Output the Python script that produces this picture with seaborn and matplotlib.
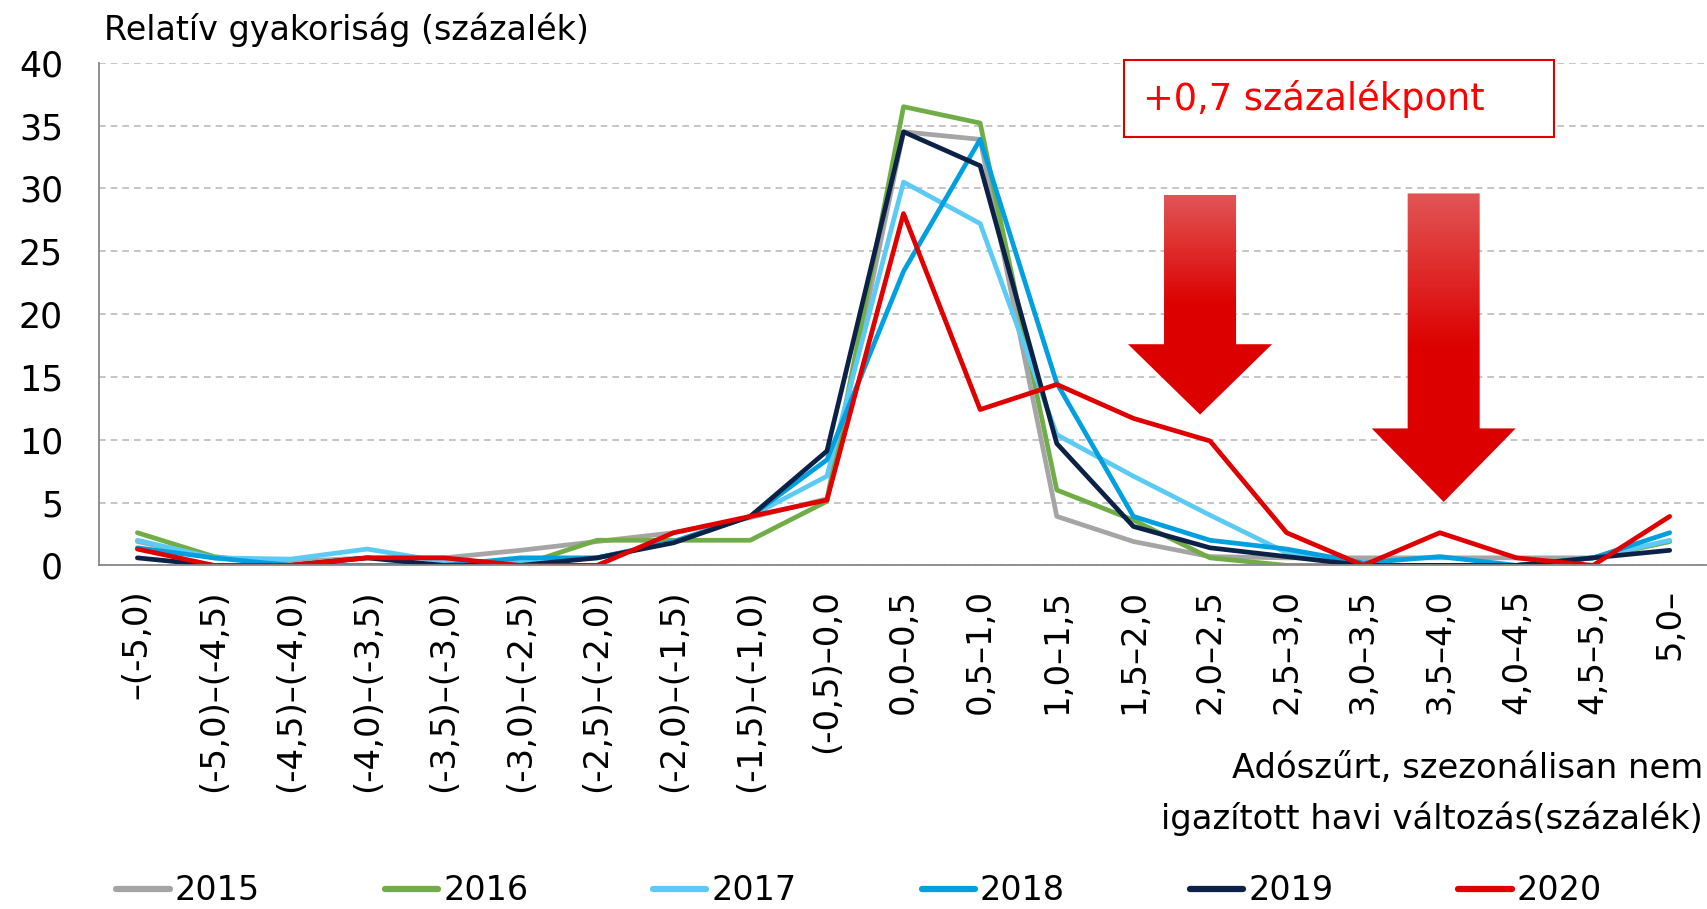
import matplotlib
matplotlib.use("Agg")
import matplotlib.pyplot as plt
import matplotlib.colors as mcolors
from matplotlib.patches import Polygon, Rectangle
from matplotlib.lines import Line2D
import seaborn as sns
import numpy as np
import pandas as pd

# category labels (monthly change bins)
categories = ["–(-5,0)", "(-5,0)–(-4,5)", "(-4,5)–(-4,0)", "(-4,0)–(-3,5)",
              "(-3,5)–(-3,0)", "(-3,0)–(-2,5)", "(-2,5)–(-2,0)", "(-2,0)–(-1,5)",
              "(-1,5)–(-1,0)", "(-0,5)–0,0", "0,0–0,5", "0,5–1,0", "1,0–1,5",
              "1,5–2,0", "2,0–2,5", "2,5–3,0", "3,0–3,5", "3,5–4,0", "4,0–4,5",
              "4,5–5,0", "5,0–"]

years = ["2015", "2016", "2017", "2018", "2019", "2020"]

v2015 = [1.9, 0.6, 0.3, 0.6, 0.6, 1.2, 1.9, 2.6, 3.8, 5.3, 34.5, 33.9,
         3.9, 1.9, 0.7, 0.6, 0.6, 0.6, 0.6, 0.6, 1.9]
v2016 = [2.6, 0.7, 0.0, 0.0, 0.0, 0.0, 2.0, 2.0, 2.0, 5.1, 36.5, 35.2,
         6.0, 3.6, 0.6, 0.0, 0.0, 0.0, 0.0, 0.6, 1.9]
v2017 = [2.0, 0.6, 0.5, 1.3, 0.3, 0.3, 0.6, 1.9, 3.9, 7.1, 30.5, 27.2,
         10.4, 7.1, 4.0, 1.0, 0.0, 0.0, 0.0, 0.6, 2.0]
v2018 = [1.4, 0.6, 0.0, 0.0, 0.0, 0.6, 0.6, 1.9, 3.9, 8.4, 23.4, 33.9,
         14.5, 3.9, 2.0, 1.3, 0.2, 0.7, 0.0, 0.6, 2.6]
v2019 = [0.6, 0.0, 0.0, 0.6, 0.0, 0.0, 0.6, 1.8, 3.9, 9.1, 34.5, 31.8,
         9.7, 3.1, 1.4, 0.7, 0.0, 0.0, 0.0, 0.6, 1.2]
v2020 = [1.3, 0.0, 0.0, 0.6, 0.6, 0.0, 0.0, 2.6, 3.9, 5.2, 28.0, 12.4,
         14.4, 11.7, 9.9, 2.6, 0.0, 2.6, 0.6, 0.0, 3.9]

colors = ["#A5A5A5", "#70AD47", "#5BCBF5", "#00A0E0", "#0C2148", "#E00000"]

series = [v2015, v2016, v2017, v2018, v2019, v2020]
df = pd.DataFrame({
    "x": np.tile(np.arange(len(categories)), len(years)),
    "value": np.concatenate(series),
    "year": np.repeat(years, len(categories)),
})

sns.set_style("white")
plt.rcParams["font.family"] = ["DejaVu Sans"]
plt.rcParams["text.color"] = "black"

fig = plt.figure(figsize=(17.08, 9.09), dpi=100)
ax = fig.add_axes([0.058, 0.378, 0.942, 0.553])

sns.lineplot(data=df, x="x", y="value", hue="year", palette=colors,
             linewidth=3.4, ax=ax, legend=False, sort=False)

ax.set_xlim(-0.5, len(categories) - 0.5)
ax.set_ylim(0, 40)
ax.set_yticks(np.arange(0, 41, 5))
ax.tick_params(axis="y", labelsize=25, length=9, color="#888888", width=1.3,
               pad=17, labelcolor="black")
ax.yaxis.grid(True, linestyle=(0, (4, 3)), color="#BBBBBB", linewidth=1.2)
ax.set_axisbelow(True)

ax.set_xticks(np.arange(len(categories)))
ax.set_xticklabels(categories, rotation=90, fontsize=24.5, va="top")
ax.tick_params(axis="x", length=0, pad=17, labelcolor="black")
ax.set_xticks(np.arange(len(categories) + 1) - 0.5, minor=True)
ax.tick_params(axis="x", which="minor", length=9, color="#888888", width=1.3)

for s in ["top", "right"]:
    ax.spines[s].set_visible(False)
for s in ["left", "bottom"]:
    ax.spines[s].set_color("#888888")
    ax.spines[s].set_linewidth(1.3)
ax.set_xlabel("")
ax.set_ylabel("")

# gradient down-arrows
cmap = mcolors.LinearSegmentedColormap.from_list(
    "arr", ["#DD0000", "#DD0000", "#E25555"])


def down_arrow(xc, top, head_base, tip, shaft_hw, head_hw):
    pts = [(xc - shaft_hw, top), (xc + shaft_hw, top), (xc + shaft_hw, head_base),
           (xc + head_hw, head_base), (xc, tip), (xc - head_hw, head_base),
           (xc - shaft_hw, head_base)]
    poly = Polygon(pts, closed=True, facecolor="none", edgecolor="none")
    ax.add_patch(poly)
    grad = np.linspace(0, 1, 256).reshape(-1, 1)
    im = ax.imshow(grad, cmap=cmap, origin="lower", aspect="auto",
                   extent=(xc - head_hw, xc + head_hw, tip, top), zorder=5)
    im.set_clip_path(poly)


down_arrow(13.87, 29.5, 17.6, 12.0, 0.47, 0.94)
down_arrow(17.05, 29.6, 10.9, 5.05, 0.47, 0.94)
ax.set_xlim(-0.5, len(categories) - 0.5)
ax.set_ylim(0, 40)

# annotation box
fig.patches.append(Rectangle((1124 / 1708, 1 - 137 / 909), 430 / 1708, 77 / 909,
                             transform=fig.transFigure, facecolor="white",
                             edgecolor="#E00000", linewidth=1.5, zorder=10))
fig.text(1143 / 1708, 1 - 99 / 909, "+0,7 százalékpont", color="#FF0000",
         fontsize=26.5, va="center", ha="left", zorder=11)

fig.text(104 / 1708, 1 - 30 / 909, "Relatív gyakoriság (százalék)",
         fontsize=24, va="center", ha="left")
fig.text(1703 / 1708, 1 - 769 / 909, "Adószűrt, szezonálisan nem",
         fontsize=24.3, va="center", ha="right")
fig.text(1703 / 1708, 1 - 819 / 909, "igazított havi változás(százalék)",
         fontsize=24.3, va="center", ha="right")

handles = [Line2D([0], [0], color=c, linewidth=4.5) for c in colors]
fig.legend(handles, years, loc="center", bbox_to_anchor=(0.503, 1 - 891 / 909),
           ncol=6, frameon=False, fontsize=24, handlelength=1.6,
           handletextpad=0.15, columnspacing=3.75, borderpad=0)

fig.savefig("out.png", dpi=100)
